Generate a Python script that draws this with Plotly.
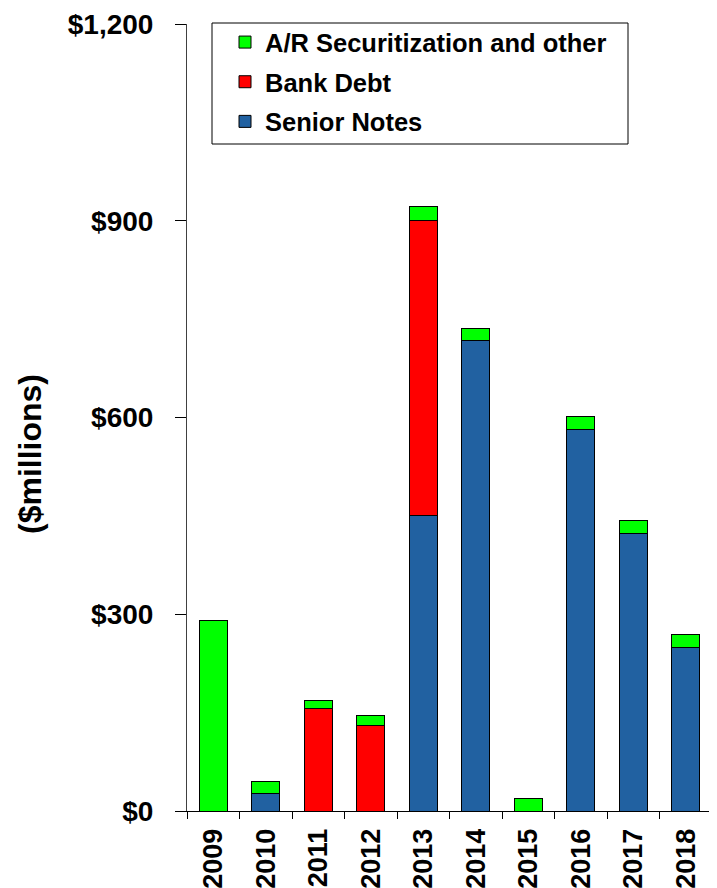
import plotly.graph_objects as go

years = ["2009", "2010", "2011", "2012", "2013", "2014", "2015", "2016", "2017", "2018"]
senior_notes = [0, 27, 0, 0, 450, 717, 0, 581, 423, 249]
bank_debt = [0, 0, 157, 130, 451, 0, 0, 0, 0, 0]
ar_securitization = [290, 18, 12, 15, 20, 19, 19, 20, 20, 20]
y_ticks = [0, 300, 600, 900, 1200]
y_tick_labels = ["$0", "$300", "$600", "$900", "$1,200"]

FONT = "Arial, 'Liberation Sans', sans-serif"
line = dict(color="#000000", width=1)

# page body has an 8px margin; figure sized so plot lands where the reference has it
W, H = 709, 880
ML, MT, MB = 179, 16, 77
PW = 525
PH = H - MT - MB
MR = W - ML - PW

def px_x(page_x):
    return (page_x - 8 - ML) / PW

def px_y(page_y):
    return 1 - (page_y - 8 - MT) / PH

fig = go.Figure()
fig.add_trace(go.Bar(x=years, y=senior_notes, name="Senior Notes", legendrank=3, legendgroup="sn",
                     marker=dict(color="#2161A1", line=line)))
fig.add_trace(go.Bar(x=years, y=bank_debt, name="Bank Debt", legendrank=2, legendgroup="bd",
                     marker=dict(color="#FF0000", line=line)))
fig.add_trace(go.Bar(x=years, y=ar_securitization, name="A/R Securitization and other", legendrank=1,
                     legendgroup="ar", marker=dict(color="#00FF00", line=line)))

fig.update_layout(
    width=W, height=H,
    margin=dict(l=ML, r=MR, t=MT, b=MB, autoexpand=False),
    paper_bgcolor="white", plot_bgcolor="white",
    barmode="stack", bargap=0.47,
    font=dict(family=FONT, color="black"),
    showlegend=True,
    legend=dict(
        x=px_x(225), y=px_y(19), xanchor="left", yanchor="top",
        borderwidth=0, bgcolor="rgba(0,0,0,0)",
        font=dict(size=25.5, family=FONT, color="black", weight="bold"),
        traceorder="grouped", tracegroupgap=3.5,
    ),
    shapes=[dict(
        type="rect", xref="paper", yref="paper",
        x0=px_x(212), x1=px_x(628), y0=px_y(144), y1=px_y(23),
        line=dict(color="black", width=1), fillcolor="white", layer="below",
    )],
    xaxis=dict(
        type="category", showline=True, linecolor="black", linewidth=1,
        ticks="outside", tickson="boundaries", ticklen=7, tickcolor="black",
        tickangle=-90, tickfont=dict(size=27, family=FONT, weight="bold"),
        ticklabelstandoff=6,
        showgrid=False, zeroline=False,
    ),
    yaxis=dict(
        range=[0, 1200], tickvals=y_ticks, ticktext=y_tick_labels,
        showline=True, linecolor="#404040", linewidth=1,
        ticks="outside", ticklen=11, tickcolor="black",
        tickfont=dict(size=28, family=FONT, weight="bold"),
        ticklabelstandoff=16,
        showgrid=False, zeroline=False,
    ),
    annotations=[dict(
        text="($millions)", xref="paper", yref="paper",
        x=px_x(30), y=px_y(454), xanchor="center", yanchor="middle",
        textangle=-90, showarrow=False,
        font=dict(size=32, family=FONT, color="black", weight="bold"),
    )],
)

fig.write_html("out.html")
